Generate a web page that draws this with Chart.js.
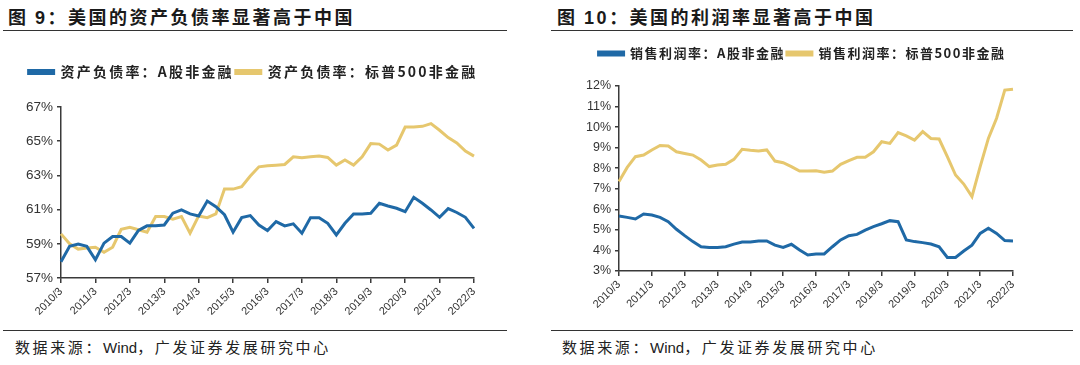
<!DOCTYPE html>
<html>
<head>
<meta charset="utf-8">
<title>美国的资产负债率与利润率</title>
<script src="https://cdn.jsdelivr.net/npm/chart.js"></script>
<style>
    body { margin: 0; background: #fff; width: 1080px; height: 365px; position: relative; overflow: hidden;
           font-family: "Noto Sans CJK SC", "Liberation Sans", sans-serif; color: #222; }
    .title { position: absolute; top: 3px; font-size: 18px; font-weight: bold; letter-spacing: 2.5px; color: #1a1a1a; }
    .rule { position: absolute; height: 0; border-top: 1.5px solid #333; }
    .source { position: absolute; top: 336px; font-size: 15px; letter-spacing: 2.6px; color: #222; }
    .source span { font-family: "Liberation Sans", sans-serif; letter-spacing: 0; }
    .box { position: absolute; }
</style>
</head>
<body>

<div class="title" style="left:8px">图 <span style="font-family:'Liberation Sans'">9</span>：美国的资产负债率显著高于中国</div>
<div class="rule" style="left:3px; width:504px; top:30px"></div>
<div class="box" style="left:0; top:63px; width:500px; height:260px"><canvas id="chartDebt"></canvas></div>
<div class="rule" style="left:3px; width:504px; top:330px"></div>
<div class="source" style="left:15px">数据来源：<span>Wind</span>，广发证券发展研究中心</div>

<div class="title" style="left:557px">图 <span style="font-family:'Liberation Sans'">10</span>：美国的利润率显著高于中国</div>
<div class="rule" style="left:551px; width:522px; top:30px"></div>
<div class="box" style="left:545px; top:45px; width:490px; height:282px"><canvas id="chartMargin"></canvas></div>
<div class="rule" style="left:551px; width:522px; top:330px"></div>
<div class="source" style="left:562px">数据来源：<span>Wind</span>，广发证券发展研究中心</div>

<script>
    // 季度：2010/3 ~ 2022/3
    const years = [2010, 2011, 2012, 2013, 2014, 2015, 2016, 2017, 2018, 2019, 2020, 2021, 2022];
    const quarterMonths = [3, 6, 9, 12];
    const quarters = [];
    years.forEach(y => quarterMonths.forEach(m => quarters.push(y + '/' + m)));
    quarters.splice(49);

    // 资产负债率 (%)
    const debtA = [57.95, 58.85, 58.98, 58.85, 58.07, 59.04, 59.43, 59.43, 59.04, 59.78,
                   60.05, 60.05, 60.10, 60.79, 60.98, 60.75, 60.63, 61.50, 61.17, 60.70,
                   59.68, 60.53, 60.65, 60.10, 59.78, 60.30, 60.05, 60.17, 59.62, 60.53,
                   60.53, 60.20, 59.52, 60.20, 60.75, 60.75, 60.79, 61.37, 61.21, 61.08,
                   60.88, 61.72, 61.37, 60.98, 60.55, 61.06, 60.83, 60.55, 59.90];
    const debtSP = [59.58, 59.00, 58.69, 58.75, 58.80, 58.50, 58.80, 59.85, 59.97, 59.82,
                    59.68, 60.59, 60.59, 60.44, 60.59, 59.62, 60.63, 60.53, 60.75, 62.20,
                    62.20, 62.34, 62.96, 63.50, 63.56, 63.60, 63.64, 64.09, 64.03, 64.09,
                    64.13, 64.05, 63.60, 63.90, 63.60, 64.09, 64.86, 64.83, 64.48, 64.77,
                    65.83, 65.83, 65.87, 66.03, 65.64, 65.21, 64.90, 64.42, 64.13];

    // 销售利润率 (%)
    const marginA = [5.68, 5.61, 5.53, 5.77, 5.72, 5.61, 5.40, 5.03, 4.72, 4.43,
                     4.18, 4.14, 4.14, 4.18, 4.31, 4.41, 4.41, 4.46, 4.46, 4.26,
                     4.15, 4.30, 4.02, 3.78, 3.83, 3.83, 4.18, 4.51, 4.72, 4.78,
                     4.99, 5.16, 5.30, 5.45, 5.40, 4.51, 4.43, 4.38, 4.31, 4.18,
                     3.66, 3.66, 3.97, 4.26, 4.83, 5.08, 4.83, 4.48, 4.46];
    const marginSP = [7.35, 8.04, 8.56, 8.64, 8.89, 9.11, 9.08, 8.80, 8.72, 8.64,
                      8.40, 8.08, 8.16, 8.19, 8.43, 8.92, 8.87, 8.84, 8.89, 8.35,
                      8.27, 8.08, 7.86, 7.86, 7.88, 7.80, 7.86, 8.19, 8.37, 8.53,
                      8.53, 8.80, 9.29, 9.21, 9.73, 9.57, 9.37, 9.78, 9.45, 9.42,
                      8.56, 7.67, 7.23, 6.62, 8.08, 9.45, 10.43, 11.80, 11.84];

    const debtTicks = [57, 59, 61, 63, 65, 67];
    const marginTicks = [3, 4, 5, 6, 7, 8, 9, 10, 11, 12];

    const blue = '#1f69a6';
    const gold = '#e6c76e';
    const axisColor = '#3a3a3a';

    // 图例：字间距、下方留白、水平位移
    const legendTweak = {
        id: 'legendTweak',
        beforeInit(chart, args, o) {
            const lg = chart.legend;
            const fit = lg.fit, draw = lg.draw;
            lg.fit = function () {
                this.ctx.save();
                this.ctx.letterSpacing = o.spacing;
                fit.call(this);
                this.ctx.restore();
                this.height += o.gap;
            };
            lg.draw = function () {
                this.ctx.save();
                this.ctx.letterSpacing = o.spacing;
                this.left += o.shift; this.right += o.shift;
                draw.call(this);
                this.left -= o.shift; this.right -= o.shift;
                this.ctx.restore();
            };
        }
    };

    function makeChart(id, names, seriesA, seriesSP, yTicks, opts) {
        return new Chart(document.getElementById(id), {
            type: 'line',
            data: {
                labels: quarters,
                datasets: [
                    { label: names[0], data: seriesA, borderColor: blue, backgroundColor: blue,
                      borderWidth: 3, pointRadius: 0, tension: 0 },
                    { label: names[1], data: seriesSP, borderColor: gold, backgroundColor: gold,
                      borderWidth: 3, pointRadius: 0, tension: 0 }
                ]
            },
            plugins: [legendTweak],
            options: {
                responsive: true,
                maintainAspectRatio: false,
                animation: false,
                layout: { padding: opts.padding },
                plugins: {
                    legendTweak: opts.legend,
                    legend: {
                        position: 'top',
                        labels: {
                            boxWidth: 25, boxHeight: 3, padding: 2,
                            color: '#222',
                            font: { family: '"Noto Sans CJK SC"', size: opts.legendSize, weight: 'bold' }
                        }
                    },
                    tooltip: { enabled: false }
                },
                scales: {
                    x: {
                        offset: false,
                        grid: { display: true, drawOnChartArea: false, drawTicks: true, tickLength: 5,
                                color: axisColor, lineWidth: 1.5 },
                        border: { color: axisColor, width: 1.5 },
                        ticks: {
                            autoSkip: false, maxRotation: 45, minRotation: 45, padding: 2,
                            color: '#333', font: { family: '"Liberation Sans"', size: 11 },
                            callback: (v, i) => i % 4 === 0 ? quarters[i] : null
                        },
                        afterFit: s => { s.height = opts.xHeight; }
                    },
                    y: {
                        min: yTicks[0], max: yTicks[yTicks.length - 1],
                        afterBuildTicks: s => { s.ticks = yTicks.map(v => ({ value: v })); },
                        grid: { display: true, drawOnChartArea: false, drawTicks: true, tickLength: 4,
                                color: axisColor, lineWidth: 1.5 },
                        border: { color: axisColor, width: 1.5 },
                        ticks: {
                            autoSkip: false, padding: 4, color: '#333',
                            font: { family: '"Liberation Sans"', size: opts.ySize },
                            callback: v => v + '%'
                        },
                        afterFit: s => { s.width = opts.yWidth; }
                    }
                }
            }
        });
    }

    makeChart('chartDebt', ['资产负债率：A股非金融', '资产负债率：标普500非金融'],
        debtA, debtSP, debtTicks,
        { padding: { left: 0, right: 26, top: 0, bottom: 0 }, xHeight: 45, yWidth: 61, ySize: 13.5,
          legendSize: 14, legend: { spacing: '2.2px', gap: 18, shift: 16 } });

    makeChart('chartMargin', ['销售利润率：A股非金融', '销售利润率：标普500非金融'],
        marginA, marginSP, marginTicks,
        { padding: { left: 0, right: 22, top: 0, bottom: 0 }, xHeight: 56, yWidth: 74, ySize: 12.5,
          legendSize: 13, legend: { spacing: '1.5px', gap: 16, shift: 23 } });
</script>

</body>
</html>
